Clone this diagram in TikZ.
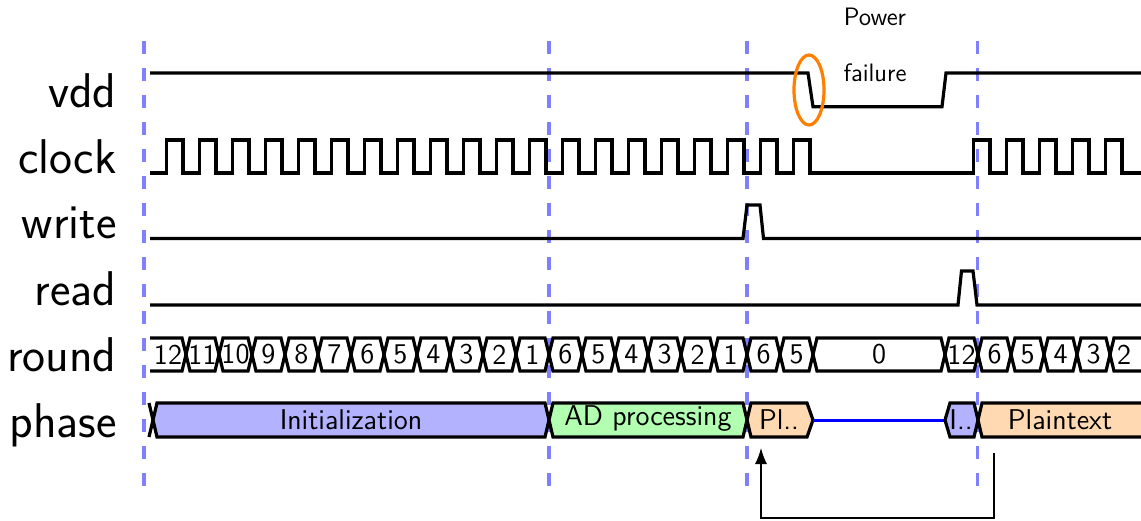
\documentclass[tikz,border=0pt]{standalone}
\usepackage{fontspec}
\usetikzlibrary{arrows.meta}
\tikzset{
  sig/.style={line width=1.6pt, black},
  vline/.style={line width=1.6pt, blue!50, dash pattern=on 6.5pt off 7pt},
  lab/.style={anchor=base east, inner sep=0pt, font=\sffamily\fontsize{24.4}{24.4}\selectfont},
  num/.style={inner sep=0pt, font=\sffamily\fontsize{14.3}{14.3}\selectfont},
  note/.style={inner sep=0pt, font=\sffamily\fontsize{12.6}{12.6}\selectfont},
  zline/.style={line width=1.5pt, blue},
  fb/.style={fill=blue!30},
  fg/.style={fill=green!30},
  fo/.style={fill=orange!30},
}
\begin{document}
\begin{tikzpicture}[x=0.5pt,y=-0.5pt]
\useasboundingbox (0,0) rectangle (1141,520);
% vertical dashed lines
\foreach \x in {144,549,747,977.5} \draw[vline] (\x,41) -- (\x,500);
% labels
\node[lab] (lvdd) at (117,107) {vdd};
\node[lab] (lclock) at (117,173) {clock};
\node[lab] (lwrite) at (117,238.5) {write};
\node[lab] (lread) at (117,305) {read};
\node[lab] (lround) at (117,371) {round};
\node[lab] (lphase) at (117,437) {phase};
% vdd
\draw[sig] (150,73) -- (808,73) -- (813,106.7) -- (942,106.7) -- (946,73) -- (1141,73);
\draw[orange, line width=1.6pt] (809,90) ellipse [x radius=7.5pt, y radius=17.5pt];
\node[note] (power) at (875,17) {Power};
\node[note] (failure) at (875,73) {failure};
% clock
\draw[sig] (150,173)
  \foreach \k in {0,...,19} { -- ({150+33*\k+16.5},173) -- ({150+33*\k+16.5},140) -- ({150+33*\k+33},140) -- ({150+33*\k+33},173) }
  -- (973.5,173)
  \foreach \k in {0,...,4} { -- ({973.5+33*\k},173) -- ({973.5+33*\k},140) -- ({973.5+33*\k+16.5},140) -- ({973.5+33*\k+16.5},173) }
  -- (1141,173);
% write
\draw[sig] (150,238.5) -- (743,238.5) -- (747,205) -- (760,205) -- (763.5,238.5) -- (1141,238.5);
% read
\draw[sig] (150,305) -- (958,305) -- (961.5,271) -- (973,271) -- (977,305) -- (1141,305);
% round
\draw[sig] (150,338) -- (182,338) -- (186,354.5) -- (182,371) -- (150,371);
\node[num] (r0) at (168,354.5) {12};
\foreach \a/\b/\t [count=\i] in {1/2/11,2/3/10,3/4/9,4/5/8,5/6/7,6/7/6,7/8/5,8/9/4,9/10/3,10/11/2,11/12/1,12/13/6,13/14/5,14/15/4,15/16/3,16/17/2,17/18/1,18/19/6,19/20/5,20/24/0,24/25/12,25/26/6,26/27/5,27/28/4,28/29/3} {
  \draw[sig] ({153+33*\a+4},338) -- ({153+33*\b-4},338) -- ({153+33*\b},354.5) -- ({153+33*\b-4},371) -- ({153+33*\a+4},371) -- ({153+33*\a},354.5) -- cycle;
  \node[num] (r\i) at ({153+16.5*(\a+\b)},354.5) {\t};
}
\draw[sig] (1141,338) -- (1114,338) -- (1110,354.5) -- (1114,371) -- (1141,371);
\node[num] (rlast) at (1124,354.5) {2};
% phase
\draw[sig] (149,403) -- (153,420) -- (149,437);
\draw[sig, fb] (157,403) -- (545,403) -- (549,420) -- (545,437) -- (157,437) -- (153,420) -- cycle;
\node[num] (pinit) at (351,420) {Initialization};
\draw[sig, fg] (553,403) -- (743,403) -- (747,420) -- (743,437) -- (553,437) -- (549,420) -- cycle;
\node[num] (pad) at (648,419) {AD processing};
\draw[sig, fo] (751,403) -- (807,403) -- (813,420) -- (807,437) -- (751,437) -- (747,420) -- cycle;
\node[num] (ppl) at (779,420) {Pl..};
\draw[zline] (813,420) -- (945,420);
\draw[sig, fb] (950,403) -- (974,403) -- (978,420) -- (974,437) -- (950,437) -- (945,420) -- cycle;
\node[num] (pi) at (961,420) {I..};
\fill[fo] (982,403) -- (1141,403) -- (1141,437) -- (982,437) -- (978,420) -- cycle;
\draw[sig] (1141,403) -- (982,403) -- (978,420) -- (982,437) -- (1141,437);
\node[num] (pplain) at (1060,420) {Plaintext};
% feedback arrow
\coordinate (abeg) at (994,453);
\coordinate (aend) at (761,448);
\draw[line width=0.65pt, -{Latex[length=8pt,width=6pt]}] (abeg) -- (994,518) -| (aend);
\end{tikzpicture}
\end{document}
